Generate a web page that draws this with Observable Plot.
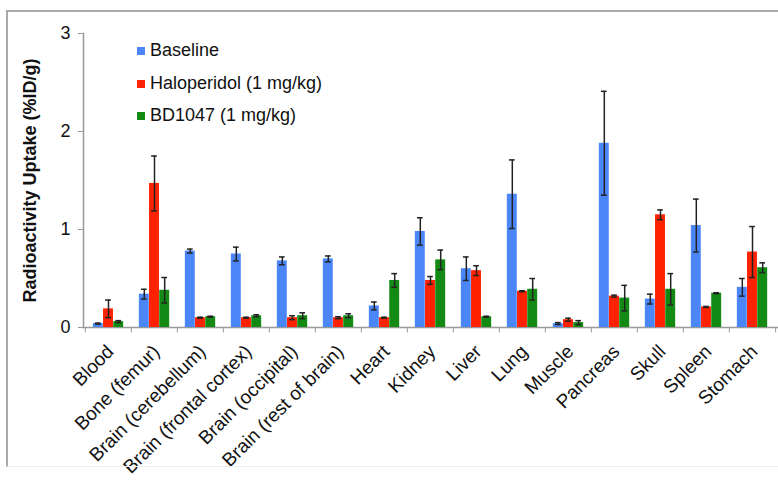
<!DOCTYPE html>
<html>
<head>
<meta charset="utf-8">
<script src="https://cdn.jsdelivr.net/npm/d3@7"></script>
<script src="https://cdn.jsdelivr.net/npm/@observablehq/plot@0.6"></script>
<style>
  html, body { margin: 0; padding: 0; background: #fff; }
  #wrap { position: relative; width: 778px; height: 481px; overflow: hidden; font-family: "Liberation Sans", Arial, sans-serif; }
  #frame { position: absolute; left: 6px; top: 10px; width: 820px; height: 457px; border-left: 2px solid #aaa; border-top: 2px solid #aaa; border-bottom: 1px solid #eee; box-sizing: border-box; }
  #legend { position: absolute; left: 137px; top: 40px; font-size: 18px; color: #111; }
  #legend .item { height: 32.5px; display: flex; align-items: flex-start; line-height: 21px; }
  #legend .sw { width: 8px; height: 8px; margin-top: 7px; margin-right: 5px; }
  svg g[aria-label="y-axis label"] text { font-weight: bold; font-size: 18px; }
</style>
</head>
<body>
<div id="wrap">
  <div id="frame"></div>
  <div id="chart"></div>
  <div id="legend"></div>
</div>
<script>
const categories = ["Blood", "Bone (femur)", "Brain (cerebellum)", "Brain (frontal cortex)", "Brain (occipital)", "Brain (rest of brain)", "Heart", "Kidney", "Liver", "Lung", "Muscle", "Pancreas", "Skull", "Spleen", "Stomach"];
const seriesNames = ["Baseline", "Haloperidol (1 mg/kg)", "BD1047 (1 mg/kg)"];
const seriesColors = ["#4a86f6", "#ff2200", "#138a13"];

const baseline    = [0.04, 0.34, 0.78, 0.75, 0.68, 0.70, 0.22, 0.98, 0.60, 1.36, 0.04, 1.88, 0.29, 1.04, 0.41];
const baselineErr = [0.005, 0.05, 0.02, 0.07, 0.04, 0.03, 0.04, 0.14, 0.12, 0.35, 0.01, 0.53, 0.05, 0.27, 0.09];
const haloperidol = [0.19, 1.47, 0.10, 0.10, 0.10, 0.10, 0.10, 0.48, 0.58, 0.37, 0.08, 0.32, 1.15, 0.21, 0.77];
const haloErr     = [0.09, 0.28, 0.005, 0.005, 0.02, 0.01, 0.005, 0.04, 0.05, 0.005, 0.015, 0.01, 0.05, 0.005, 0.26];
const bd1047      = [0.06, 0.38, 0.11, 0.12, 0.12, 0.12, 0.48, 0.69, 0.11, 0.39, 0.05, 0.30, 0.39, 0.35, 0.61];
const bdErr       = [0.01, 0.13, 0.005, 0.01, 0.03, 0.02, 0.07, 0.10, 0.005, 0.11, 0.02, 0.13, 0.16, 0.005, 0.05];
const yTicks = [0, 1, 2, 3];

const values = [baseline, haloperidol, bd1047];
const errs = [baselineErr, haloErr, bdErr];

const W = 778, H = 481, mL = 83, mR = 1, mT = 33, mB = 154;
const bw = (W - mL - mR) / categories.length;
const barW = 10.2;
const inset = (bw - barW) / 2;
const capInset = (bw - 6) / 2;

const marks = [];
values.forEach((vals, i) => {
  const data = categories.map((c, j) => ({cat: c, v: vals[j], lo: vals[j] - errs[i][j], hi: vals[j] + errs[i][j]}));
  const dx = (i - 1) * barW;
  marks.push(Plot.barY(data, {x: "cat", y: "v", fill: seriesColors[i], insetLeft: inset, insetRight: inset, dx}));
  marks.push(Plot.ruleX(data, {x: "cat", y1: "lo", y2: "hi", dx, stroke: "#222", strokeWidth: 1.5}));
  marks.push(Plot.tickY(data, {x: "cat", y: "hi", dx, insetLeft: capInset, insetRight: capInset, stroke: "#222", strokeWidth: 1.5}));
  marks.push(Plot.tickY(data, {x: "cat", y: "lo", dx, insetLeft: capInset, insetRight: capInset, stroke: "#222", strokeWidth: 1.5}));
});

const chart = Plot.plot({
  width: W, height: H,
  marginLeft: mL, marginRight: mR, marginTop: mT, marginBottom: mB,
  style: {fontFamily: "'Liberation Sans', Arial, sans-serif", fontSize: "18px", color: "#111", background: "transparent", overflow: "visible"},
  x: {type: "band", domain: categories, padding: 0},
  y: {domain: [0, 3]},
  marks: [
    Plot.frame({anchor: "left", stroke: "#999", strokeWidth: 1.5}),
    Plot.frame({anchor: "bottom", stroke: "#999", strokeWidth: 1.5}),
    Plot.ruleX(categories, {x: d => d, y1: 0, y2: -0.055, dx: -bw / 2, stroke: "#999"}),
    Plot.ruleX(categories.slice(-1), {x: d => d, y1: 0, y2: -0.055, dx: bw / 2, stroke: "#999"}),
    Plot.axisY({ticks: yTicks, tickFormat: d3.format("d"), tickSize: 5, tickPadding: 8, stroke: "#999", fill: "#111", fontSize: 18,
      label: "Radioactivity Uptake (%ID/g)", labelAnchor: "center", labelOffset: 60, labelArrow: "none"}),
    Plot.axisX({tickSize: 0, tickRotate: -45, tickPadding: 21, dx: 2, fontSize: 19, fill: "#111", label: null}),
    ...marks
  ]
});
document.getElementById("chart").appendChild(chart);

const legend = document.getElementById("legend");
seriesNames.forEach((n, i) => {
  const it = document.createElement("div");
  it.className = "item";
  it.innerHTML = `<span class="sw" style="background:${seriesColors[i]}"></span><span>${n}</span>`;
  legend.appendChild(it);
});
</script>
</body>
</html>
